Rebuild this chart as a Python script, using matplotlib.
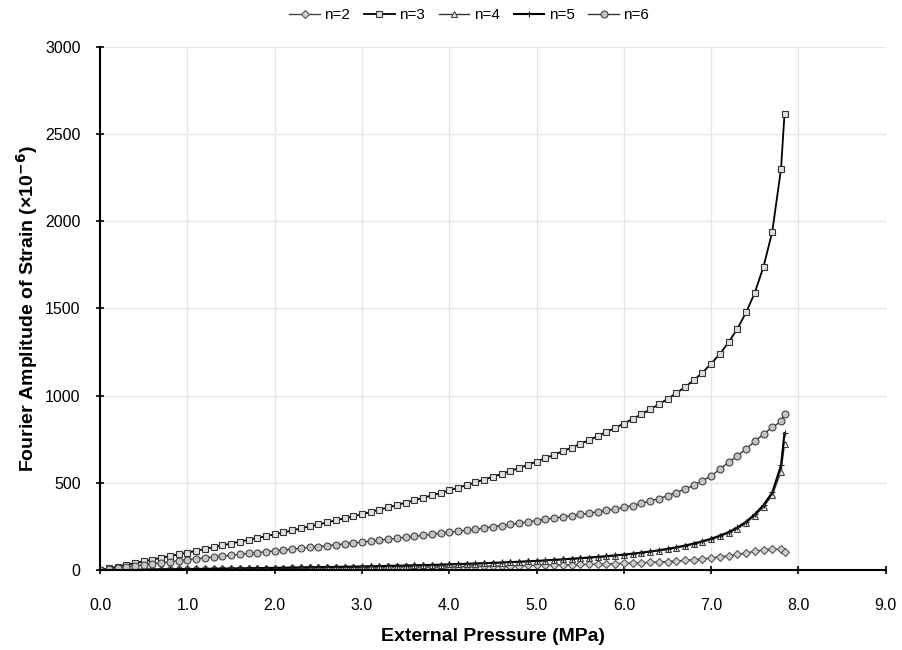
import numpy as np
import matplotlib
matplotlib.use("Agg")
import matplotlib.pyplot as plt

plt.rcParams['font.family'] = ['Liberation Sans', 'DejaVu Sans']

# pressure steps (MPa): 0.0 .. 7.8 every 0.1, then the last load step
pressure = [round(0.1 * i, 1) for i in range(79)] + [7.84]

# Fourier amplitude of strain (x1e-6)
n2 = [0, 0.4, 0.8, 1.2, 1.6, 2, 2.4, 2.8, 3.2, 3.6, 4,
      4.4, 4.8, 5.2, 5.6, 6, 6.4, 6.8, 7.2, 7.6, 8,
      8.5, 9, 9.5, 10, 10.5, 11, 11.5, 12, 12.5, 13,
      13.6, 14.2, 14.8, 15.4, 16, 16.6, 17.2, 17.8, 18.4, 19,
      19.7, 20.4, 21.2, 22, 22.8, 23.6, 24.4, 25.2, 26.1, 27,
      28, 29, 30, 31, 32, 33, 34.2, 35.4, 36.7, 38,
      40, 42, 44, 46.5, 49, 52, 55.5, 59.5, 64, 70,
      76, 83, 90, 98, 108, 116, 121, 118,
      106]
n3 = [0, 10, 20, 30, 40, 50, 60, 70, 80, 90, 100,
      110, 121, 131, 142, 152, 163, 173, 184, 194, 205,
      216, 227, 239, 250, 262, 273, 285, 297, 308, 320,
      333, 346, 359, 373, 386, 400, 414, 428, 442, 457,
      472, 487, 503, 519, 535, 551, 568, 585, 603, 622,
      641, 661, 681, 702, 723, 745, 768, 791, 815, 840,
      866, 893, 921, 950, 981, 1014, 1049, 1088, 1132, 1183,
      1240, 1306, 1384, 1477, 1590, 1740, 1940, 2300,
      2615]
n4 = [0, 0.5, 1, 1.5, 2, 2.5, 3, 3.5, 4, 4.5, 5,
      5.7, 6.4, 7.1, 7.8, 8.5, 9.2, 9.9, 10.6, 11.3, 12,
      12.8, 13.6, 14.4, 15.2, 16, 16.8, 17.6, 18.4, 19.2, 20,
      21, 22, 23.1, 24.2, 25.4, 26.6, 27.8, 29.1, 30.5, 32,
      33.6, 35.3, 37, 38.8, 40.7, 42.7, 44.8, 47, 49.4, 52,
      54.7, 57.5, 60.5, 63.7, 67, 70.5, 74.2, 78.2, 82.5, 87,
      92, 98, 104, 111, 119, 128, 138, 149, 162, 176,
      193, 213, 238, 270, 312, 363, 430, 565,
      725]
n5 = [0, 0.5, 1.1, 1.6, 2.2, 2.7, 3.3, 3.8, 4.4, 4.9, 5.5,
      6.2, 6.9, 7.6, 8.3, 9, 9.7, 10.4, 11.1, 11.8, 12.5,
      13.3, 14.1, 14.9, 15.7, 16.5, 17.3, 18.1, 18.9, 19.7, 20.5,
      21.5, 22.5, 23.6, 24.7, 25.9, 27.1, 28.3, 29.6, 31, 32.5,
      34.1, 35.8, 37.6, 39.5, 41.4, 43.4, 45.5, 47.8, 50.2, 52.8,
      55.5, 58.4, 61.5, 64.8, 68.2, 71.8, 75.6, 79.7, 84.1, 88.8,
      94, 100, 106.5, 113.5, 121.5, 130.5, 140.5, 152, 165, 180,
      197, 218, 244, 277, 320, 373, 445, 600,
      785]
n6 = [0, 6, 12, 18, 24, 30, 36, 42, 48, 54, 60,
      65, 70, 75, 80, 85, 90, 95, 100, 105, 110,
      115, 120, 125, 130, 135, 140, 145, 150, 155, 161,
      166, 171, 177, 182, 188, 193, 199, 204, 210, 216,
      222, 228, 234, 241, 248, 255, 262, 269, 276, 284,
      291, 298, 305, 312, 319, 326, 334, 342, 350, 360,
      370, 382, 396, 410, 426, 444, 464, 486, 512, 540,
      578, 618, 655, 695, 738, 780, 818, 852,
      895]

labels = ['n=2', 'n=3', 'n=4', 'n=5', 'n=6']

fig = plt.figure(figsize=(9.02, 6.5), dpi=100)
ax = fig.add_axes([0.111, 0.123, 0.871, 0.805])

ax.plot(pressure, n2, color='#444444', lw=1, marker='D', ms=4,
        mfc='#cfcfcf', mec='#555555', mew=0.8, label=labels[0])
ax.plot(pressure, n3, color='black', lw=1.3, marker='s', ms=4.5,
        mfc='#e0e0e0', mec='#333333', mew=0.8, label=labels[1])
ax.plot(pressure, n4, color='#333333', lw=1, marker='^', ms=4.5,
        mfc='#eeeeee', mec='#444444', mew=0.8, label=labels[2])
ax.plot(pressure, n5, color='black', lw=1.5, marker='+', ms=4,
        mec='#222222', mew=0.8, label=labels[3])
ax.plot(pressure, n6, color='#333333', lw=1, marker='o', ms=5,
        mfc='#c4c4c4', mec='#444444', mew=0.8, label=labels[4])

ax.set_xlim(0, 9)
ax.set_ylim(0, 3000)
ax.set_xticks(np.arange(0, 9.5, 1.0))
ax.set_xticklabels([f'{v:.1f}' for v in np.arange(0, 9.5, 1.0)])
ax.set_yticks(np.arange(0, 3001, 500))
ax.grid(True, color='#e6e6e6', lw=1)
ax.set_axisbelow(True)

for s in ['top', 'right']:
    ax.spines[s].set_visible(False)
for s in ['left', 'bottom']:
    ax.spines[s].set_linewidth(1.5)
    ax.spines[s].set_color('black')
ax.tick_params(axis='both', labelsize=11.5, width=1.2, length=6, direction='inout')
ax.tick_params(axis='x', pad=17)
ax.tick_params(axis='y', pad=11)

ax.set_xlabel('External Pressure (MPa)', fontsize=14, fontweight='bold', labelpad=11)
ax.set_ylabel('Fourier Amplitude of Strain (×10$^{\\mathbf{-6}}$)', fontsize=14,
              fontweight='bold', labelpad=4)

ax.legend(loc='center', bbox_to_anchor=(0.47, 1.06), ncol=5, frameon=False,
          fontsize=11, handlelength=2.0, columnspacing=0.9, handletextpad=0.3,
          borderaxespad=0)

fig.savefig('out.png', dpi=100)
